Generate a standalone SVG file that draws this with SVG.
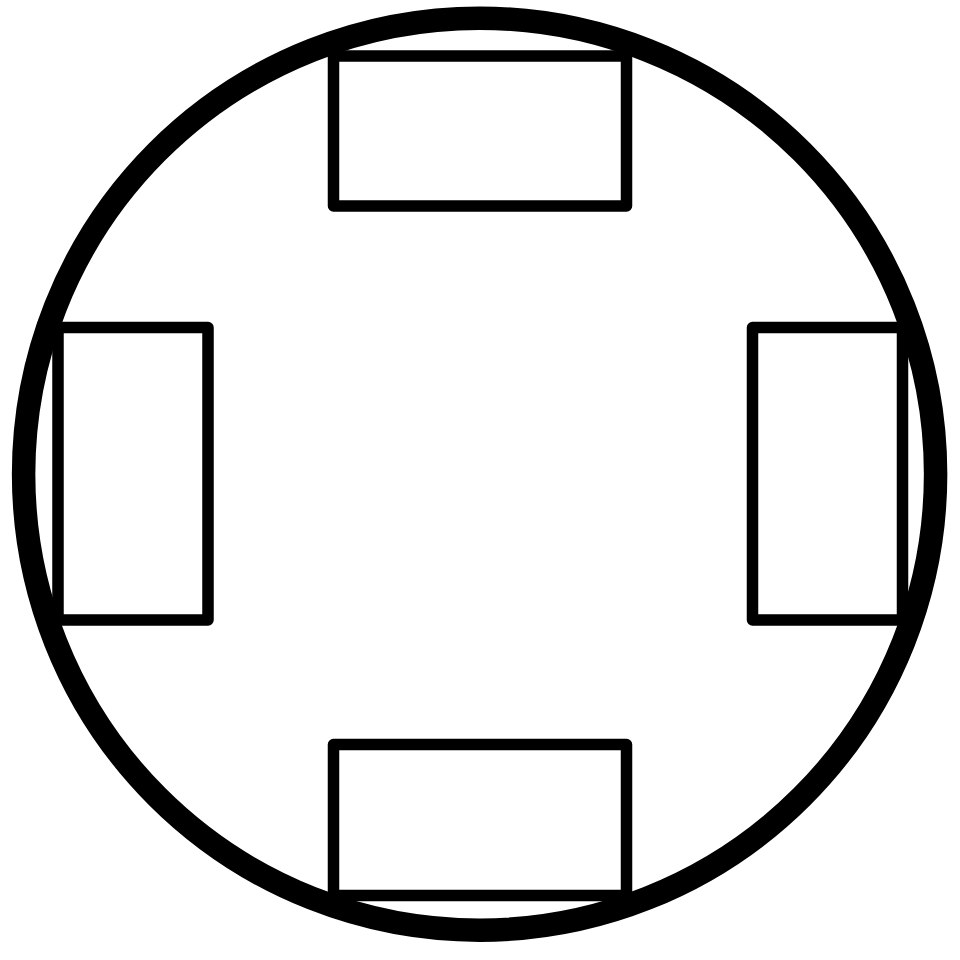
<svg xmlns="http://www.w3.org/2000/svg" width="960" height="960" viewBox="0 0 960 960">
<style>
.ring{fill:none;stroke:#000;stroke-width:23.5}
.box{fill:#fff;stroke:#000;stroke-width:11.5;stroke-linejoin:round}
</style>
<rect width="960" height="960" fill="#fff"/>
<g id="outer-circle"><circle class="ring" cx="479.6" cy="474.2" r="456"/></g>
<g id="box-top"><rect class="box" x="333.5" y="56" width="293" height="150"/></g>
<g id="box-left"><rect class="box" x="58" y="327.5" width="150" height="292.5"/></g>
<g id="box-right"><rect class="box" x="752.5" y="327.5" width="150" height="292.5"/></g>
<g id="box-bottom"><rect class="box" x="333.5" y="744.5" width="293" height="151"/></g>
<g id="connectors"></g>
</svg>
